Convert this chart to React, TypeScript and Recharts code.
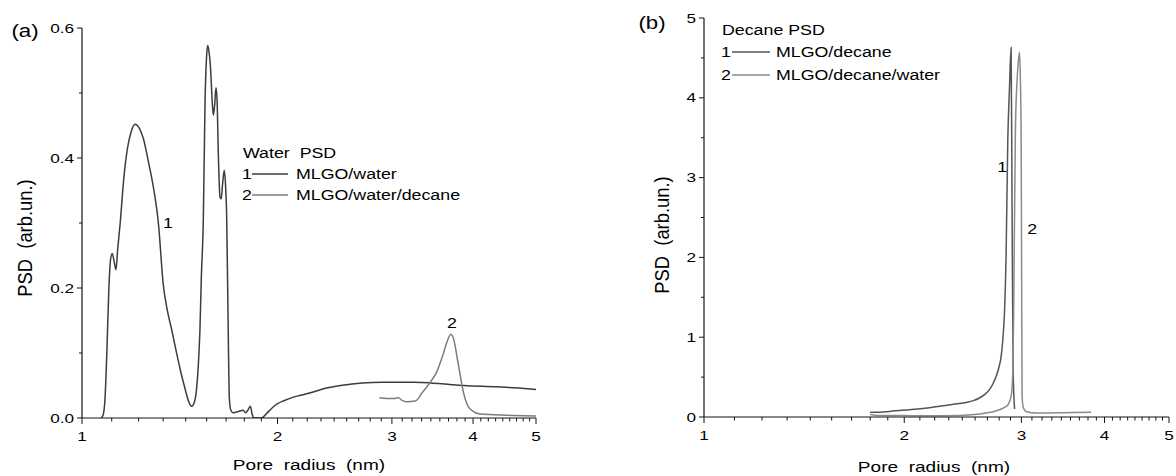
import React from 'react';
import { LineChart, Line, XAxis, YAxis, ReferenceDot } from 'recharts';

// pore radius (nm) vs PSD (arb. un.)
const radiusMajor = [1, 2, 3, 4, 5];
const waterPsdMajor = [0, 0.2, 0.4, 0.6];
const waterPsdMinor = [0.1, 0.3, 0.5];
const decanePsdMajor = [0, 1, 2, 3, 4, 5];
const decanePsdMinor = [0.5, 1.5, 2.5, 3.5, 4.5];

const waterMlgo: [number, number][] = [
  [1.07, 0], [1.078, 0.005], [1.085, 0.03], [1.092, 0.1], [1.1, 0.2], [1.107, 0.245], [1.113, 0.253],
  [1.121, 0.24], [1.128, 0.228], [1.135, 0.26], [1.145, 0.3], [1.16, 0.37], [1.175, 0.415], [1.19, 0.44],
  [1.207, 0.452], [1.225, 0.446], [1.243, 0.43], [1.265, 0.395], [1.288, 0.355], [1.311, 0.3],
  [1.334, 0.205], [1.35, 0.171], [1.375, 0.135], [1.399, 0.099], [1.42, 0.07], [1.441, 0.045],
  [1.46, 0.025], [1.475, 0.018], [1.49, 0.025], [1.502, 0.048], [1.512, 0.09], [1.519, 0.135],
  [1.527, 0.22], [1.537, 0.3], [1.547, 0.489], [1.555, 0.555], [1.561, 0.573], [1.568, 0.565],
  [1.577, 0.54], [1.586, 0.49], [1.593, 0.466], [1.6, 0.48], [1.608, 0.508], [1.614, 0.49],
  [1.622, 0.4], [1.631, 0.34], [1.638, 0.337], [1.646, 0.36], [1.656, 0.381], [1.663, 0.36],
  [1.67, 0.31], [1.676, 0.2], [1.68, 0.12], [1.686, 0.03], [1.695, 0.012], [1.71, 0.008],
  [1.74, 0.01], [1.771, 0.012], [1.785, 0.008], [1.8, 0.012], [1.816, 0.018], [1.828, 0.006],
  [1.84, 0], [1.89, 0], [1.924, 0.007], [1.96, 0.015], [2.0, 0.022], [2.05, 0.027], [2.1, 0.031],
  [2.17, 0.035], [2.27, 0.04], [2.38, 0.046], [2.5, 0.05], [2.7, 0.054], [2.9, 0.055], [3.05, 0.055],
  [3.25, 0.055], [3.44, 0.054], [3.65, 0.052], [3.87, 0.05], [4.35, 0.048], [4.7, 0.046], [5.0, 0.044],
];

const waterMlgoDecane: [number, number][] = [
  [2.87, 0.031], [2.95, 0.03], [3.015, 0.03], [3.07, 0.031], [3.11, 0.027], [3.16, 0.025],
  [3.257, 0.026], [3.3, 0.031], [3.334, 0.038], [3.39, 0.047], [3.435, 0.055], [3.517, 0.071],
  [3.56, 0.085], [3.6, 0.099], [3.65, 0.118], [3.696, 0.129], [3.725, 0.125], [3.752, 0.112],
  [3.785, 0.09], [3.819, 0.068], [3.855, 0.045], [3.888, 0.03], [3.93, 0.018], [3.98, 0.012],
  [4.1, 0.006], [4.3, 0.005], [4.61, 0.004], [5.0, 0.003],
];

const decaneMlgo: [number, number][] = [
  [1.777, 0.06], [1.814, 0.058], [1.9, 0.07], [2.036, 0.092], [2.15, 0.11], [2.286, 0.142],
  [2.4, 0.165], [2.477, 0.183], [2.54, 0.205], [2.594, 0.238], [2.64, 0.28], [2.686, 0.343],
  [2.72, 0.42], [2.749, 0.51], [2.775, 0.62], [2.797, 0.76], [2.815, 1.0], [2.829, 1.3],
  [2.845, 2.02], [2.862, 3.48], [2.878, 4.1], [2.895, 4.63], [2.905, 2.5], [2.915, 0.6], [2.93, 0.1],
];

const decaneMlgoWater: [number, number][] = [
  [1.777, 0.03], [1.814, 0.02], [2.0, 0.018], [2.157, 0.016], [2.421, 0.02], [2.55, 0.03],
  [2.655, 0.05], [2.73, 0.07], [2.78, 0.09], [2.83, 0.12], [2.862, 0.15], [2.895, 0.26],
  [2.912, 0.55], [2.922, 1.51], [2.938, 3.56], [2.954, 4.19], [2.968, 4.45], [2.98, 4.57],
  [2.988, 4.3], [2.997, 3.57], [3.002, 1.93], [3.007, 0.26], [3.02, 0.12], [3.049, 0.07],
  [3.157, 0.05], [3.4, 0.052], [3.6, 0.055], [3.82, 0.058],
];

const toRows = (pts: [number, number][]) => pts.map(([r, psd]) => ({ r, psd }));

// 8 linear minor ticks between each pair of labelled radii, like the original plot
const radiusMinor = radiusMajor.slice(0, -1).flatMap(k => [1, 2, 3, 4, 5, 6, 7, 8].map(j => k + j / 9));
const radiusTicks = [...radiusMajor, ...radiusMinor].sort((a, b) => a - b);

const FONT = '"Liberation Sans", Arial, sans-serif';
const SX = 1.27;
const AXIS = '#151515';
const INK = '#000';

const xTick = (props: any) => {
  const { x, y, payload } = props;
  const major = radiusMajor.includes(payload.value);
  return (
    <g>
      <line x1={x} x2={x} y1={y} y2={y + (major ? 6 : 3.5)} stroke={AXIS} strokeWidth={1} />
      {major && (
        <text transform={`translate(${x},${y + 23}) scale(${SX},1)`} textAnchor="middle" fontSize={13.5} fontFamily={FONT} fill={INK}>
          {payload.value}
        </text>
      )}
    </g>
  );
};

const yTick = (majors: number[], fmt: (v: number) => string) => (props: any) => {
  const { x, y, payload } = props;
  const major = majors.includes(payload.value);
  return (
    <g>
      <line x1={x} x2={x - (major ? 5 : 3)} y1={y} y2={y} stroke={AXIS} strokeWidth={1} />
      {major && (
        <text transform={`translate(${x - 8},${y + 4.5}) scale(${SX},1)`} textAnchor="end" fontSize={13.5} fontFamily={FONT} fill={INK}>
          {fmt(payload.value)}
        </text>
      )}
    </g>
  );
};

const tag = (t: string) => (p: any) => (
  <text transform={`translate(${p.cx},${p.cy + 5}) scale(${SX},1)`} textAnchor="middle" fontSize={14} fontFamily={FONT} fill={INK}>
    {t}
  </text>
);

const Panel = (props: {
  left: number; width: number; margin: any; yWidth: number; yDomain: [number, number];
  yTicks: number[]; yMajors: number[]; yFmt: (v: number) => string;
  series: { pts: [number, number][]; color: string; name: string }[];
  tags: { r: number; psd: number; t: string }[];
}) => (
  <div style={{ position: 'absolute', left: props.left, top: 0 }}>
    <LineChart width={props.width} height={476} margin={props.margin}>
      <XAxis
        type="number" dataKey="r" scale="log" domain={[1, 5]} allowDataOverflow
        ticks={radiusTicks} interval={0} tickSize={0} tickMargin={0} tickLine={false}
        axisLine={{ stroke: AXIS, strokeWidth: 1.2 }} height={30} tick={xTick}
      />
      <YAxis
        type="number" domain={props.yDomain} allowDataOverflow ticks={props.yTicks} interval={0}
        tickSize={0} tickMargin={0} tickLine={false} width={props.yWidth}
        axisLine={{ stroke: AXIS, strokeWidth: 1.2 }} tick={yTick(props.yMajors, props.yFmt)}
      />
      {props.series.map(s => (
        <Line
          key={s.name} data={toRows(s.pts)} dataKey="psd" name={s.name} type="monotone"
          stroke={s.color} strokeWidth={1.5} dot={false} activeDot={false} isAnimationActive={false}
        />
      ))}
      {props.tags.map(g => (
        <ReferenceDot key={g.t} x={g.r} y={g.psd} r={0} shape={tag(g.t)} ifOverflow="visible" />
      ))}
    </LineChart>
  </div>
);

const T = (p: { x: number; y: number; size?: number; anchor?: string; children: React.ReactNode }) => (
  <text
    transform={`translate(${p.x},${p.y}) scale(${SX},1)`} textAnchor={p.anchor || 'start'}
    fontSize={p.size || 14} fontFamily={FONT} fill={INK} style={{ whiteSpace: 'pre' }}
  >
    {p.children}
  </text>
);

const LegendRow = (p: { x: number; y: number; n: string; color: string; label: string; lineFrom: number; lineTo: number; textX: number }) => (
  <g>
    <T x={p.x} y={p.y + 5}>{p.n}</T>
    <line x1={p.lineFrom} x2={p.lineTo} y1={p.y} y2={p.y} stroke={p.color} strokeWidth={1.5} />
    <T x={p.textX} y={p.y + 5}>{p.label}</T>
  </g>
);

const WATER_1 = '#3c3c3c';
const WATER_2 = '#7c7c7c';
const DECANE_1 = '#555555';
const DECANE_2 = '#8a8a8a';

export default function App() {
  return (
    <div style={{ position: 'absolute', left: 0, top: 0, width: 1176, height: 476, background: '#fff', overflow: 'hidden' }}>
      <Panel
        left={0} width={560} margin={{ top: 28, right: 24, bottom: 28, left: 0 }} yWidth={82}
        yDomain={[0, 0.6]} yTicks={[...waterPsdMajor, ...waterPsdMinor].sort((a, b) => a - b)}
        yMajors={waterPsdMajor} yFmt={v => v.toFixed(1)}
        series={[
          { pts: waterMlgo, color: WATER_1, name: 'MLGO/water' },
          { pts: waterMlgoDecane, color: WATER_2, name: 'MLGO/water/decane' },
        ]}
        tags={[{ r: 1.356, psd: 0.3, t: '1' }, { r: 3.71, psd: 0.146, t: '2' }]}
      />
      <Panel
        left={590} width={586} margin={{ top: 18, right: 7, bottom: 29, left: 0 }} yWidth={114}
        yDomain={[0, 5]} yTicks={[...decanePsdMajor, ...decanePsdMinor].sort((a, b) => a - b)}
        yMajors={decanePsdMajor} yFmt={v => String(v)}
        series={[
          { pts: decaneMlgo, color: DECANE_1, name: 'MLGO/decane' },
          { pts: decaneMlgoWater, color: DECANE_2, name: 'MLGO/decane/water' },
        ]}
        tags={[{ r: 2.806, psd: 3.13, t: '1' }, { r: 3.113, psd: 2.35, t: '2' }]}
      />
      <svg width={1176} height={476} style={{ position: 'absolute', left: 0, top: 0, pointerEvents: 'none' }}>
        <T x={25} y={37} size={17.5} anchor="middle">(a)</T>
        <T x={652} y={29} size={17.5} anchor="middle">(b)</T>

        <T x={243} y={158}>{'Water  PSD'}</T>
        <LegendRow x={242} y={174} n="1" color={WATER_1} label="MLGO/water" lineFrom={252} lineTo={288} textX={296} />
        <LegendRow x={242} y={195} n="2" color={WATER_2} label="MLGO/water/decane" lineFrom={252} lineTo={288} textX={296} />

        <T x={722} y={35}>Decane PSD</T>
        <LegendRow x={721} y={52} n="1" color={DECANE_1} label="MLGO/decane" lineFrom={732} lineTo={770} textX={776} />
        <LegendRow x={721} y={75} n="2" color={DECANE_2} label="MLGO/decane/water" lineFrom={732} lineTo={770} textX={776} />

        <T x={309} y={470} size={15} anchor="middle">{'Pore  radius  (nm)'}</T>
        <T x={934} y={472} size={15} anchor="middle">{'Pore  radius  (nm)'}</T>

        <text transform="translate(32,238) rotate(-90) scale(1.08,1.2)" textAnchor="middle" fontSize={17} fontFamily={FONT} fill={INK} style={{ whiteSpace: 'pre' }}>
          {'PSD  (arb.un.)'}
        </text>
        <text transform="translate(669,235) rotate(-90) scale(1.08,1.2)" textAnchor="middle" fontSize={17} fontFamily={FONT} fill={INK} style={{ whiteSpace: 'pre' }}>
          {'PSD  (arb.un.)'}
        </text>
      </svg>
    </div>
  );
}
